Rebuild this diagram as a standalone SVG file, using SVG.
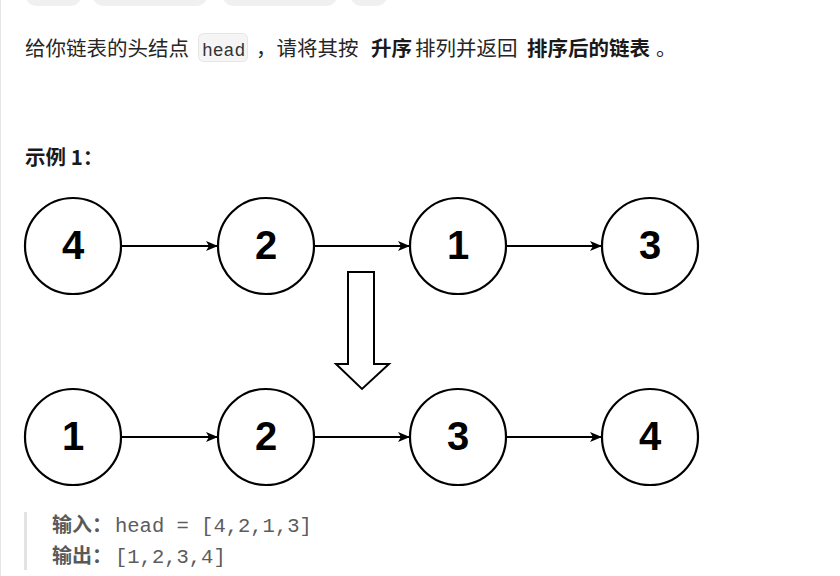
<svg xmlns="http://www.w3.org/2000/svg" width="840" height="576" viewBox="0 0 840 576">
<defs>
<style>
.cjk{font-family:"Noto Sans CJK SC","Noto Sans",sans-serif;font-size:20.5px;fill:#262626}
.b{font-weight:bold}
.mono{font-family:"Liberation Mono","DejaVu Sans Mono",monospace}
.node circle{fill:#fff;stroke:#000;stroke-width:2.2}
.node text{font-family:"Liberation Sans",Arial,sans-serif;font-weight:bold;font-size:40px;text-anchor:middle;fill:#000}
.edge{stroke:#000;stroke-width:2;fill:none;marker-end:url(#ah)}
.pill{fill:#f0f0f0}
.out{font-size:20px;fill:#5c5c5c}
</style>
<marker id="ah" viewBox="0 0 12 10" refX="12" refY="5" markerWidth="12" markerHeight="10" markerUnits="userSpaceOnUse" orient="auto">
<path d="M0,0 L12,5 L0,10 L3,5 Z" fill="#000"/>
</marker>
</defs>
<rect width="840" height="576" fill="#fff"/>
<line x1="0.5" y1="0" x2="0.5" y2="576" stroke="#e6e6e6" stroke-width="1"/>
<g id="tabs">
<rect class="pill" x="25" y="-20" width="57" height="26" rx="12"/>
<rect class="pill" x="92" y="-20" width="116" height="26" rx="12"/>
<rect class="pill" x="222" y="-20" width="116" height="26" rx="12"/>
<rect class="pill" x="350" y="-20" width="38" height="26" rx="12"/>
</g>
<g id="description">
<rect x="198.5" y="33.5" width="49" height="28" rx="5" fill="#f5f5f5" stroke="#e6e6e6"/>
<text class="cjk" y="56"><tspan x="25">给你链表的头结点</tspan><tspan x="202" class="mono" style="font-size:18px;fill:#333">head</tspan><tspan x="256">，请将其按</tspan><tspan x="371" class="b" style="fill:#1a1a1a">升序</tspan><tspan x="415">排列并返回</tspan><tspan x="527" class="b" style="fill:#1a1a1a">排序后的链表</tspan><tspan x="656">。</tspan></text>
<text class="cjk b" x="25" y="165" style="fill:#1a1a1a">示例 1：</text>
</g>
<g id="connectors">
<line class="edge" x1="122" y1="246" x2="218" y2="246"/>
<line class="edge" x1="314" y1="246" x2="410" y2="246"/>
<line class="edge" x1="506" y1="246" x2="602" y2="246"/>
<line class="edge" x1="122" y1="437" x2="218" y2="437"/>
<line class="edge" x1="314" y1="437" x2="410" y2="437"/>
<line class="edge" x1="506" y1="437" x2="602" y2="437"/>
</g>
<g id="n-top-4" class="node"><circle cx="73" cy="246" r="48"/><text x="73" y="259">4</text></g>
<g id="n-top-2" class="node"><circle cx="266" cy="246" r="48"/><text x="266" y="259">2</text></g>
<g id="n-top-1" class="node"><circle cx="458" cy="246" r="48"/><text x="458" y="259">1</text></g>
<g id="n-top-3" class="node"><circle cx="650" cy="246" r="48"/><text x="650" y="259">3</text></g>
<g id="down-arrow">
<polygon points="348,272 374,272 374,364 389,364 362,389 336,364 348,364" fill="#fff" stroke="#000" stroke-width="2" stroke-linejoin="miter"/>
</g>
<g id="n-bot-1" class="node"><circle cx="73" cy="437" r="48"/><text x="73" y="450">1</text></g>
<g id="n-bot-2" class="node"><circle cx="266" cy="437" r="48"/><text x="266" y="450">2</text></g>
<g id="n-bot-3" class="node"><circle cx="458" cy="437" r="48"/><text x="458" y="450">3</text></g>
<g id="n-bot-4" class="node"><circle cx="650" cy="437" r="48"/><text x="650" y="450">4</text></g>
<g id="example">
<rect x="24" y="512" width="3" height="58" fill="#e3e3e3"/>
<text class="cjk out" y="532"><tspan x="52" class="b" style="fill:#595959">输入：</tspan><tspan x="115" class="mono" style="font-size:20.5px">head = [4,2,1,3]</tspan></text>
<text class="cjk out" y="563"><tspan x="52" class="b" style="fill:#595959">输出：</tspan><tspan x="115" class="mono" style="font-size:20.5px">[1,2,3,4]</tspan></text>
</g>
</svg>
